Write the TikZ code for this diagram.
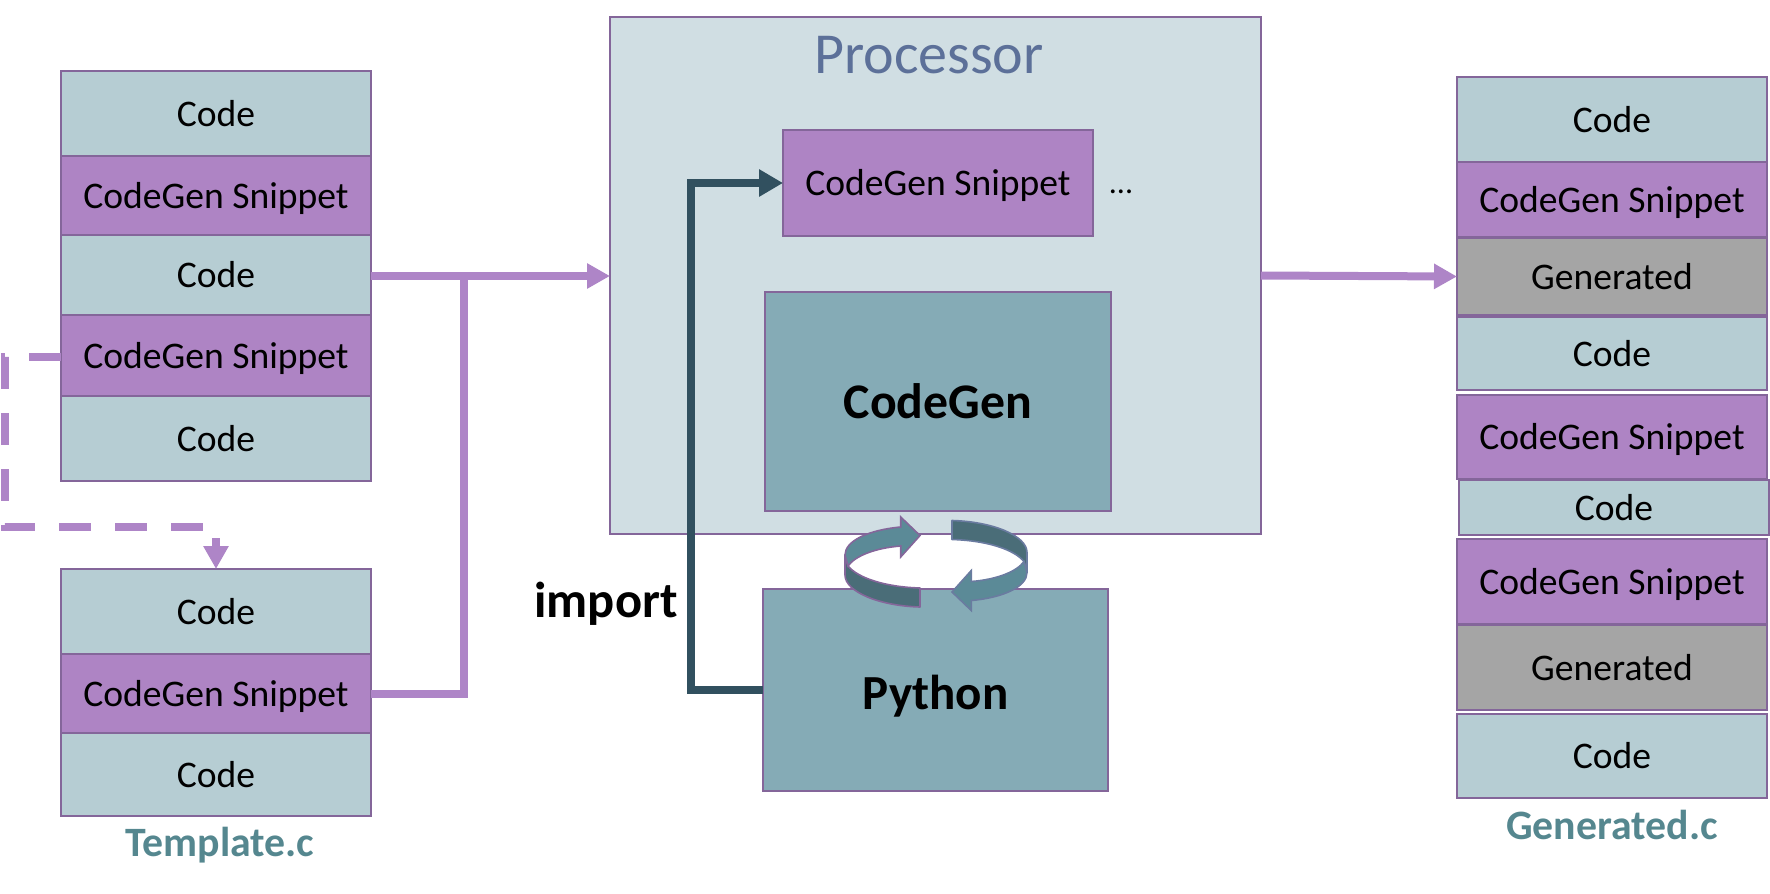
\documentclass[tikz,border=0pt]{standalone}
\usepackage{fontspec}
\setmainfont{Carlito}
\usetikzlibrary{arrows.meta}
\definecolor{codefill}{HTML}{B6CDD3}
\definecolor{snipfill}{HTML}{AE84C4}
\definecolor{genfill}{HTML}{A5A5A5}
\definecolor{edgecol}{HTML}{84669A}
\definecolor{procfill}{HTML}{D0DEE3}
\definecolor{mainfill}{HTML}{85ABB6}
\definecolor{flow}{HTML}{AE85C7}
\definecolor{darkline}{HTML}{31505F}
\definecolor{procText}{HTML}{5C7099}
\definecolor{labelcol}{HTML}{55878F}
\definecolor{ringlight}{HTML}{5B8A97}
\definecolor{ringdark}{HTML}{4A6D78}
\definecolor{ringedgeb}{HTML}{6A7BA0}
\tikzset{
  blockbase/.style={draw=edgecol,line width=2pt,inner sep=0pt,outer sep=0pt,text=black,text height=25pt,text depth=0pt,font=\fontsize{37.6}{45}\selectfont},
  codeblock/.style={blockbase,fill=codefill},
  snipblock/.style={blockbase,fill=snipfill},
  genblock/.style={blockbase,fill=genfill},
  procblock/.style={blockbase,fill=procfill},
  mainblock/.style={blockbase,fill=mainfill,text height=33pt},
  flowline/.style={draw=flow,line width=8pt},
  flowarrow/.style={flowline,-{Triangle[width=24pt,length=23pt]}},
  importarrow/.style={draw=darkline,line width=8pt,-{Triangle[width=26pt,length=24pt]}},
  biglabel/.style={font=\fontsize{50.5}{60}\selectfont\bfseries,text=black},
  filelabel/.style={font=\fontsize{41.8}{50}\selectfont\bfseries,text=labelcol},
}
\newcommand{\blk}[7]{%
  \pgfmathsetmacro{\bw}{#5-#3}\pgfmathsetmacro{\bh}{#6-#4}%
  \pgfmathsetmacro{\bx}{(#3+#5)/2}\pgfmathsetmacro{\by}{(#4+#6)/2}%
  \node[#2,minimum width=\bw pt,minimum height=\bh pt] (#1) at (\bx,\by) {#7};}
\newcommand{\ringarrow}[1]{%
  \draw[line width=1.6pt,draw=#1,fill=ringdark,line join=round] (845,555) -- (845,575) .. controls (845,592) and (880,606) .. (920,607) -- (920,588) .. controls (885,587) and (858,578) .. (848,566) -- cycle;
  \draw[line width=1.6pt,draw=#1,fill=ringlight,line join=miter] (845,555) .. controls (845,541) and (868,530) .. (900.7,527) -- (900.7,517) -- (920,535.5) -- (900.7,557) -- (900.7,546) .. controls (875,548) and (855,556) .. (848,566) -- cycle;}
\begin{document}
\begin{tikzpicture}[x=1pt,y=-1pt]
\useasboundingbox (0,0) rectangle (1770,894);
% processor
\blk{proc}{procblock}{610}{17}{1261}{534}{}
\node[font=\fontsize{58}{70}\selectfont,text=procText] (proctitle) at (929,55) {Processor};
\blk{psnip}{snipblock}{783}{130}{1093}{236}{CodeGen Snippet}
\node[font=\fontsize{32}{38}\selectfont] (dots) at (1121,192) {...};
\blk{cg}{mainblock}{765}{292}{1111}{511}{\fontsize{49.8}{60}\selectfont\bfseries CodeGen}
\blk{py}{mainblock}{763}{589}{1108}{791}{\fontsize{49}{59}\selectfont\bfseries\raisebox{-2.5pt}{Python}}
\node[biglabel] (importlbl) at (606,604) {import};
% connectors under the stacks
\coordinate (jn) at (464,276);
\coordinate (c1) at (5,357);
\coordinate (c2) at (5,527);
\coordinate (c3) at (216,527);
% left stack
\blk{a1}{codeblock}{61}{71}{371}{156}{Code}
\blk{a2}{snipblock}{61}{156}{371}{235}{CodeGen Snippet}
\blk{a3}{codeblock}{61}{235}{371}{315}{Code}
\blk{a4}{snipblock}{61}{315}{371}{396}{CodeGen Snippet}
\blk{a5}{codeblock}{61}{396}{371}{481}{Code}
% lower left stack
\blk{b1}{codeblock}{61}{569}{371}{654}{Code}
\blk{b2}{snipblock}{61}{654}{371}{733}{CodeGen Snippet}
\blk{b3}{codeblock}{61}{733}{371}{816}{Code}
% right stack
\blk{r1}{codeblock}{1457}{77}{1767}{162}{Code}
\blk{r2}{snipblock}{1457}{162}{1767}{237}{CodeGen Snippet}
\blk{r3}{genblock}{1457}{238}{1767}{315}{Generated}
\blk{r4}{codeblock}{1457}{317}{1767}{390}{Code}
\blk{r5}{snipblock}{1457}{395}{1767}{479}{CodeGen Snippet}
\blk{r6}{codeblock}{1459}{480}{1769}{535}{Code}
\blk{r7}{snipblock}{1457}{539}{1767}{624}{CodeGen Snippet}
\blk{r8}{genblock}{1457}{625}{1767}{710}{Generated}
\blk{r9}{codeblock}{1457}{714}{1767}{798}{Code}
% labels
\node[filelabel] (tpl) at (220,845) {Template.c};
\node[filelabel] (gen) at (1612,825) {Generated.c};
% connectors
\draw[flowarrow] (a3.east |- jn) -- (proc.west |- jn);
\draw[flowline] (b2.east) -| (jn);
\draw[flowarrow] (proc.east) -- (r3.west);
\draw[flow,line width=8pt,dash pattern=on 32pt off 24pt,-{Triangle[width=24pt,length=23pt]}] (c1 -| a4.west) -- (c1) -- (c2) -- (c3) -- (b1.north -| c3);
\draw[importarrow] (py.west) -- (691,690) -- (691,183) -- (psnip.west);
% rotation arrows
\ringarrow{edgecol}
\begin{scope}[rotate around={180:(936,563.75)}]
\ringarrow{ringedgeb}
\end{scope}
\end{tikzpicture}
\end{document}
